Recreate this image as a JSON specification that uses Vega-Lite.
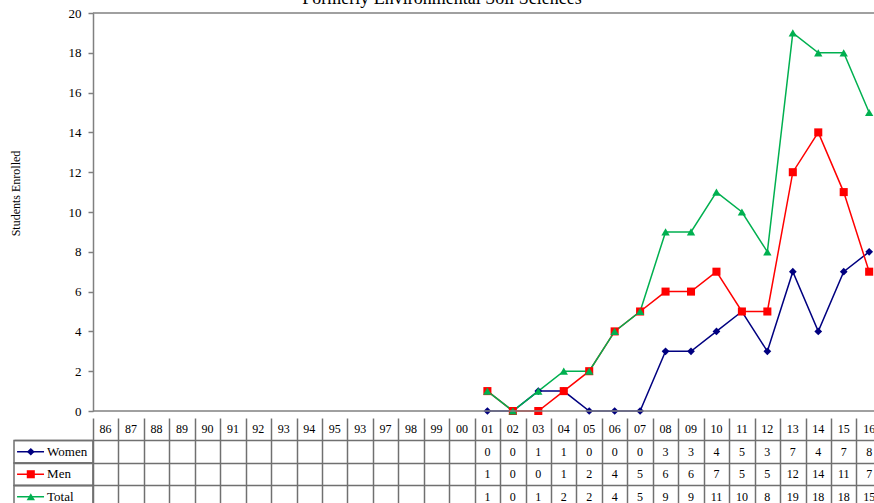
{
  "$schema": "https://vega.github.io/schema/vega-lite/v6.json",
  "padding": {"left": 9, "top": -10, "right": 0, "bottom": 2},
  "background": "white",
  "spacing": 0,
  "config": {"view": {"stroke": null}, "font": "Liberation Serif"},
  "title": {"text": "Formerly Environmental Soil Sciences", "font": "Liberation Serif", "fontSize": 18, "fontWeight": "normal", "color": "black", "anchor": "middle", "offset": -1},
  "datasets": {
    "years": [
      {"year": 1986, "label": "86"}, {"year": 1987, "label": "87"}, {"year": 1988, "label": "88"},
      {"year": 1989, "label": "89"}, {"year": 1990, "label": "90"}, {"year": 1991, "label": "91"},
      {"year": 1992, "label": "92"}, {"year": 1993, "label": "93"}, {"year": 1994, "label": "94"},
      {"year": 1995, "label": "95"}, {"year": 1996, "label": "93"}, {"year": 1997, "label": "97"},
      {"year": 1998, "label": "98"}, {"year": 1999, "label": "99"}, {"year": 2000, "label": "00"},
      {"year": 2001, "label": "01", "Women": 0, "Men": 1, "Total": 1},
      {"year": 2002, "label": "02", "Women": 0, "Men": 0, "Total": 0},
      {"year": 2003, "label": "03", "Women": 1, "Men": 0, "Total": 1},
      {"year": 2004, "label": "04", "Women": 1, "Men": 1, "Total": 2},
      {"year": 2005, "label": "05", "Women": 0, "Men": 2, "Total": 2},
      {"year": 2006, "label": "06", "Women": 0, "Men": 4, "Total": 4},
      {"year": 2007, "label": "07", "Women": 0, "Men": 5, "Total": 5},
      {"year": 2008, "label": "08", "Women": 3, "Men": 6, "Total": 9},
      {"year": 2009, "label": "09", "Women": 3, "Men": 6, "Total": 9},
      {"year": 2010, "label": "10", "Women": 4, "Men": 7, "Total": 11},
      {"year": 2011, "label": "11", "Women": 5, "Men": 5, "Total": 10},
      {"year": 2012, "label": "12", "Women": 3, "Men": 5, "Total": 8},
      {"year": 2013, "label": "13", "Women": 7, "Men": 12, "Total": 19},
      {"year": 2014, "label": "14", "Women": 4, "Men": 14, "Total": 18},
      {"year": 2015, "label": "15", "Women": 7, "Men": 11, "Total": 18},
      {"year": 2016, "label": "16", "Women": 8, "Men": 7, "Total": 15}
    ],
    "series": [{"series": "Women"}, {"series": "Men"}, {"series": "Total"}]
  },
  "vconcat": [
    {
      "width": 860,
      "height": 398,
      "layer": [
        {
          "data": {"name": "years"},
          "transform": [
            {"fold": ["Women", "Men", "Total"], "as": ["series", "value"]},
            {"filter": "isValid(datum.value)"}
          ],
          "encoding": {
            "x": {"field": "year", "type": "quantitative", "scale": {"domain": [1982.4, 2016.19], "nice": false, "zero": false}, "axis": null},
            "y": {"field": "value", "type": "quantitative", "scale": {"domain": [0, 20], "nice": false, "zero": false},
              "axis": {"title": "Students Enrolled", "values": [0, 2, 4, 6, 8, 10, 12, 14, 16, 18, 20], "tickCount": 30, "format": "d", "labelOverlap": false, "grid": false, "offset": -79,
                "tickSize": 5, "tickColor": "#808080", "tickWidth": 1.5, "domainColor": "#808080", "domainWidth": 1.5,
                "labelFont": "Liberation Serif", "labelFontSize": 13, "labelColor": "black", "labelPadding": 7,
                "titleFont": "Liberation Serif", "titleFontSize": 12, "titleFontWeight": "normal", "titleColor": "black",
                "titleX": -71, "titleY": 180}},
            "color": {"field": "series", "type": "nominal", "scale": {"domain": ["Women", "Men", "Total"], "range": ["#000080", "#FF0000", "#00B050"]}, "legend": null}
          },
          "layer": [
            {"mark": {"type": "line", "strokeWidth": 1.5}},
            {"mark": {"type": "point", "filled": true, "opacity": 1},
              "encoding": {
                "shape": {"field": "series", "type": "nominal", "scale": {"domain": ["Women", "Men", "Total"], "range": ["diamond", "square", "triangle-up"]}, "legend": null},
                "size": {"field": "series", "type": "nominal", "scale": {"domain": ["Women", "Men", "Total"], "range": [60, 70, 80]}, "legend": null}
              }}
          ]
        },
        {
          "data": {"values": [{}]},
          "mark": {"type": "rule", "color": "#808080", "strokeWidth": 1.5},
          "encoding": {"x": {"datum": 1985.5, "type": "quantitative"}, "x2": {"datum": 2016.19}, "y": {"datum": 0, "type": "quantitative"}}
        },
        {
          "data": {"values": [{}]},
          "mark": {"type": "rule", "color": "#808080", "strokeWidth": 1.5},
          "encoding": {"x": {"datum": 1985.5, "type": "quantitative"}, "x2": {"datum": 2016.19}, "y": {"datum": 20, "type": "quantitative"}}
        }
      ]
    },
    {
      "width": 860,
      "height": 90,
      "layer": [
        {
          "data": {"name": "years"},
          "mark": {"type": "text", "font": "Liberation Serif", "fontSize": 12, "color": "black", "baseline": "middle", "align": "center"},
          "encoding": {
            "x": {"field": "year", "type": "quantitative", "scale": {"domain": [1982.4, 2016.19], "nice": false, "zero": false},
              "axis": {"values": [1985.5, 1986.5, 1987.5, 1988.5, 1989.5, 1990.5, 1991.5, 1992.5, 1993.5, 1994.5, 1995.5, 1996.5, 1997.5, 1998.5, 1999.5, 2000.5, 2001.5, 2002.5, 2003.5, 2004.5, 2005.5, 2006.5, 2007.5, 2008.5, 2009.5, 2010.5, 2011.5, 2012.5, 2013.5, 2014.5, 2015.5],
                "tickCount": 60, "grid": true, "gridColor": "#707070", "gridWidth": 1.5, "labels": false, "ticks": false, "domain": true, "domainColor": "#707070", "domainWidth": 1.5, "title": null}},
            "y": {"datum": "hdr", "type": "nominal", "scale": {"type": "band", "domain": ["hdr", "Women", "Men", "Total"], "paddingInner": 0, "paddingOuter": 0},
              "axis": {"values": ["Women", "Men", "Total"], "bandPosition": 0, "grid": true, "gridColor": "#707070", "gridWidth": 1.5, "labels": false, "ticks": false, "domain": false, "title": null}},
            "text": {"field": "label"}
          }
        },
        {
          "data": {"name": "years"},
          "transform": [
            {"fold": ["Women", "Men", "Total"], "as": ["series", "value"]},
            {"filter": "isValid(datum.value)"}
          ],
          "mark": {"type": "text", "font": "Liberation Serif", "fontSize": 12, "color": "black", "baseline": "middle", "align": "center"},
          "encoding": {
            "x": {"field": "year", "type": "quantitative"},
            "y": {"field": "series", "type": "nominal"},
            "text": {"field": "value", "type": "quantitative"}
          }
        },
        {
          "data": {"name": "series"},
          "mark": {"type": "rect", "fill": "transparent", "stroke": "#707070", "strokeWidth": 1.5},
          "encoding": {
            "x": {"datum": 1982.4, "type": "quantitative"}, "x2": {"datum": 1985.5},
            "y": {"field": "series", "type": "nominal"}
          }
        },
        {
          "data": {"name": "series"},
          "mark": {"type": "rule", "strokeWidth": 1.5},
          "encoding": {
            "x": {"datum": 1982.52, "type": "quantitative"}, "x2": {"datum": 1983.58},
            "y": {"field": "series", "type": "nominal"},
            "color": {"field": "series", "type": "nominal", "scale": {"domain": ["Women", "Men", "Total"], "range": ["#000080", "#FF0000", "#00B050"]}, "legend": null}
          }
        },
        {
          "data": {"name": "series"},
          "mark": {"type": "point", "filled": true, "opacity": 1},
          "encoding": {
            "x": {"datum": 1983.06, "type": "quantitative"},
            "y": {"field": "series", "type": "nominal"},
            "color": {"field": "series", "type": "nominal", "scale": {"domain": ["Women", "Men", "Total"], "range": ["#000080", "#FF0000", "#00B050"]}, "legend": null},
            "shape": {"field": "series", "type": "nominal", "scale": {"domain": ["Women", "Men", "Total"], "range": ["diamond", "square", "triangle-up"]}, "legend": null},
            "size": {"field": "series", "type": "nominal", "scale": {"domain": ["Women", "Men", "Total"], "range": [60, 70, 80]}, "legend": null}
          }
        },
        {
          "data": {"name": "series"},
          "mark": {"type": "text", "font": "Liberation Serif", "fontSize": 13, "color": "black", "baseline": "middle", "align": "left"},
          "encoding": {
            "x": {"datum": 1983.7, "type": "quantitative"},
            "y": {"field": "series", "type": "nominal"},
            "text": {"field": "series"}
          }
        }
      ]
    }
  ]
}
